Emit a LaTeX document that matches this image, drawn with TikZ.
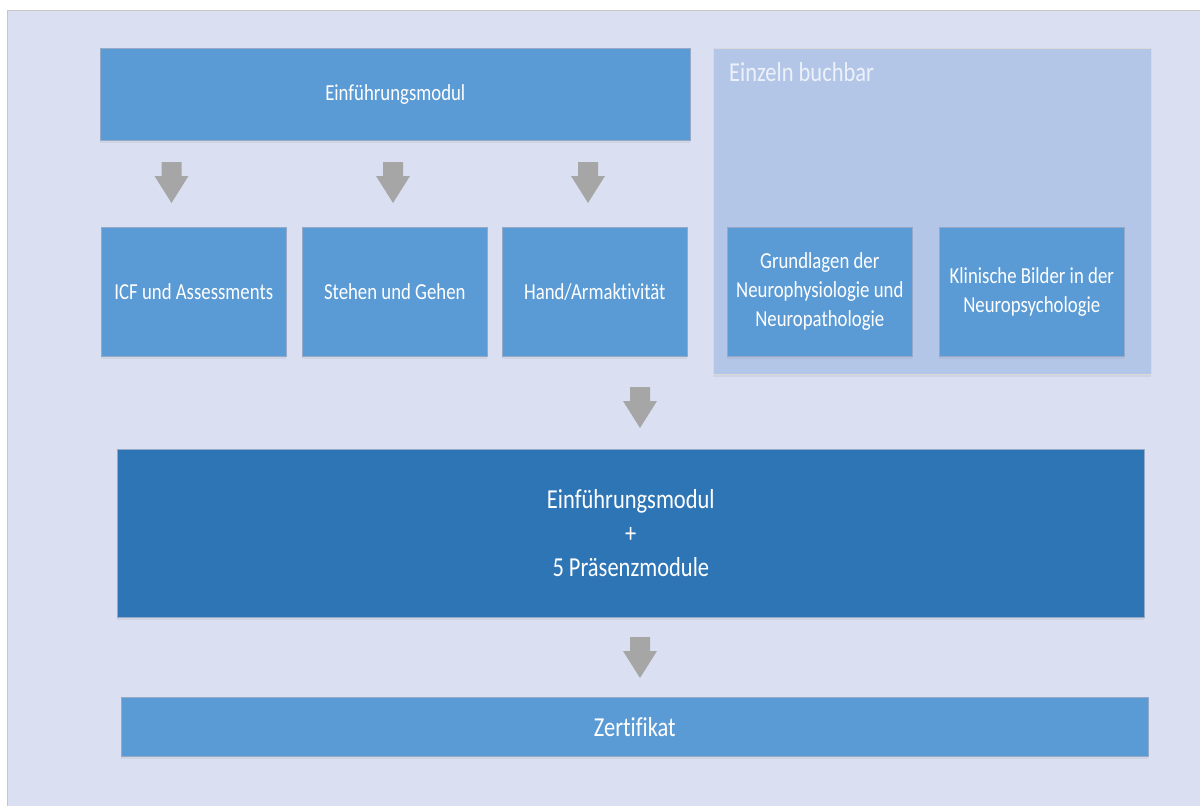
\documentclass[tikz,border=0pt]{standalone}
\usepackage{fontspec}
\setmainfont{Carlito}[FakeStretch=0.82, Ligatures=NoCommon]
\usetikzlibrary{shadows}
\definecolor{bglav}{RGB}{218,224,242}
\definecolor{panelblue}{RGB}{180,198,231}
\definecolor{boxblue}{RGB}{91,155,213}
\definecolor{darkblue}{RGB}{46,117,182}
\definecolor{boxedge}{RGB}{150,170,200}
\definecolor{arrowgray}{RGB}{166,166,166}
\definecolor{lighttext}{RGB}{236,241,250}
\newcommand\fsmall{\fontsize{22.9}{29}\selectfont}
\newcommand\flarge{\fontsize{27.4}{34}\selectfont}
\tikzset{
  box/.style={draw=boxedge, line width=0.6pt, fill=boxblue, text=white, align=center,
    font=\fsmall, inner sep=0pt, anchor=north west,
    drop shadow={opacity=0.12, shadow xshift=0pt, shadow yshift=-3pt}},
  bigbox/.style={box, fill=darkblue, font=\flarge},
  darrow/.pic={\fill[arrowgray] (-10,0) -- (10,0) -- (10,14) -- (17,14) -- (0,41) -- (-17,14) -- (-10,14) -- cycle;}
}
\begin{document}
\begin{tikzpicture}[x=1pt,y=-1pt]
\useasboundingbox (0,0) rectangle (1200,806);
\fill[white] (0,0) rectangle (1200,806);
\filldraw[fill=bglav, draw=black!22, line width=0.8pt] (7,10) rectangle (1202,808);

% Einzeln buchbar panel
\node[box, draw=black!15, fill=panelblue, minimum width=438pt, minimum height=326pt] (panel) at (713,48) {};
\node[anchor=base west, text=lighttext, font=\flarge, inner sep=0pt] (paneltitle) at (729,81) {Einzeln buchbar};

% top module
\node[box, minimum width=590pt, minimum height=92pt] (intro) at (100,48) {Einführungsmodul};

% arrows row 1
\pic (ar1) at (171.5,162) {darrow};
\pic (ar2) at (393,162) {darrow};
\pic (ar3) at (588,162) {darrow};

% row boxes
\node[box, minimum width=185pt, minimum height=129pt] (icf) at (101,227) {ICF und Assessments};
\node[box, minimum width=185pt, minimum height=129pt] (stehen) at (302,227) {Stehen und Gehen};
\node[box, minimum width=185pt, minimum height=129pt] (hand) at (502,227) {Hand/Armaktivität};
\node[box, minimum width=185pt, minimum height=129pt] (grund) at (727,227) {Grundlagen der\\Neurophysiologie und\\Neuropathologie};
\node[box, minimum width=185pt, minimum height=129pt] (klin) at (939,227) {Klinische Bilder in der\\Neuropsychologie};

% arrow to big box
\pic (ar4) at (640,387) {darrow};

\node[bigbox, minimum width=1027pt, minimum height=168pt] (total) at (117,449) {Einführungsmodul\\+\\5 Präsenzmodule};

\pic (ar5) at (640,637) {darrow};

\node[box, font=\flarge, minimum width=1027pt, minimum height=59pt] (zert) at (121,697) {Zertifikat};
\end{tikzpicture}
\end{document}
